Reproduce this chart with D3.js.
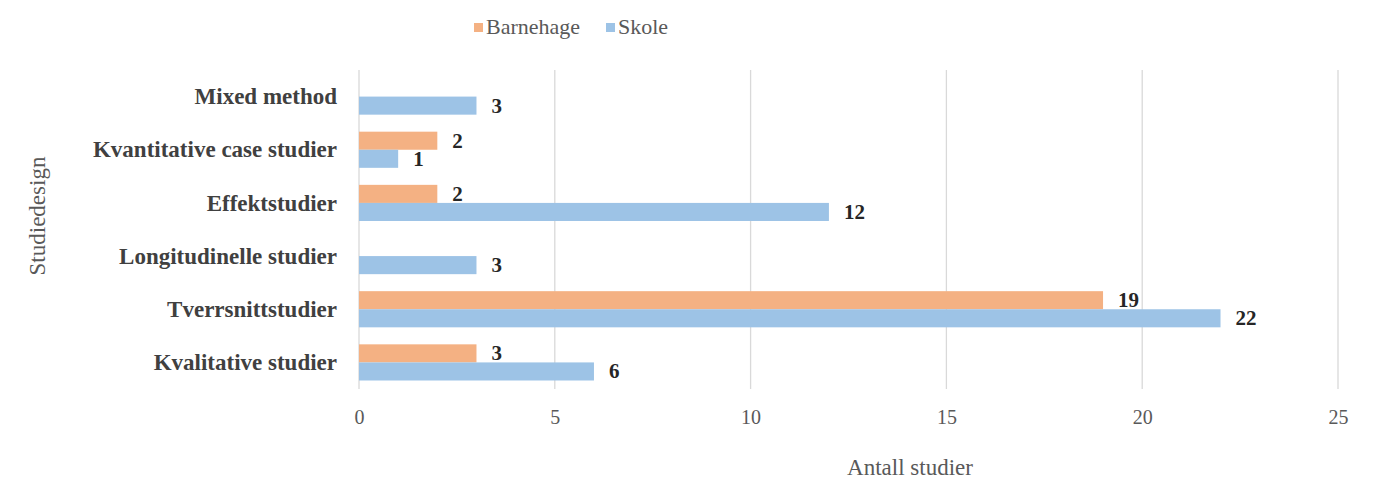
<!DOCTYPE html>
<html>
<head>
<meta charset="utf-8">
<script src="https://cdn.jsdelivr.net/npm/d3@7"></script>
<style>
	body { margin: 0; background: white; }
	text { font-family: 'Liberation Serif', 'Times New Roman', serif; }
</style>
</head>
<body>
<div id="chart"></div>
<script>
// data
var categories = ['Mixed method', 'Kvantitative case studier', 'Effektstudier',
	'Longitudinelle studier', 'Tverrsnittstudier', 'Kvalitative studier'];
var barnehage = [null, 2, 2, null, 19, 3];
var skole = [3, 1, 12, 3, 22, 6];
var series_names = ['Barnehage', 'Skole'];
var x_ticks = [0, 5, 10, 15, 20, 25];

var colors = ['#F4B183', '#9DC3E6'];

var margin = {top: 70, right: 47, bottom: 90, left: 359};
var width = 1385 - margin.left - margin.right;
var height = 479 - margin.top - margin.bottom;

var svg = d3.select('#chart')
	.append('svg')
		.attr('width', 1385)
		.attr('height', 479);

var g = svg.append('g')
	.attr('transform', 'translate(' + margin.left + ',' + margin.top + ')');

var x = d3.scaleLinear()
	.domain([0, 25])
	.range([0, width]);

var y = d3.scaleBand()
	.domain(categories)
	.range([0, height])
	.paddingInner(0.32)
	.paddingOuter(0.16);

var y_sub = d3.scaleBand()
	.domain(series_names)
	.range([0, y.bandwidth()]);

// grid
g.append('g')
	.selectAll('line')
	.data(x_ticks)
	.enter()
	.append('line')
		.attr('x1', function(d) { return x(d); })
		.attr('x2', function(d) { return x(d); })
		.attr('y1', 0)
		.attr('y2', height)
		.attr('stroke', '#d9d9d9')
		.attr('stroke-width', 1.3);

// x axis labels
var x_axis = g.append('g')
	.attr('transform', 'translate(0,' + height + ')')
	.call(d3.axisBottom(x).tickValues(x_ticks).tickSize(0).tickPadding(21));
x_axis.select('.domain').remove();
x_axis.selectAll('text')
	.style('font-family', 'Liberation Serif, serif')
	.style('font-size', '20px')
	.style('fill', '#595959');

// y axis labels
var y_axis = g.append('g')
	.call(d3.axisLeft(y).tickSize(0).tickPadding(22));
y_axis.select('.domain').remove();
y_axis.selectAll('text')
	.attr('dy', '0.33em')
	.style('font-family', 'Liberation Serif, serif')
	.style('font-size', '23px')
	.style('font-weight', 'bold')
	.style('fill', '#404040');

// bars
var all_series = [barnehage, skole];
all_series.forEach(function(values, s) {
	var rows = categories.map(function(c, i) { return {cat: c, v: values[i]}; })
		.filter(function(d) { return d.v !== null; });

	g.append('g')
		.selectAll('rect')
		.data(rows)
		.enter()
		.append('rect')
			.attr('x', x(0))
			.attr('y', function(d) { return y(d.cat) + y_sub(series_names[s]); })
			.attr('width', function(d) { return x(d.v) - x(0); })
			.attr('height', y_sub.bandwidth())
			.style('fill', colors[s]);

	g.append('g')
		.selectAll('text')
		.data(rows)
		.enter()
		.append('text')
			.attr('x', function(d) { return x(d.v) + 15; })
			.attr('y', function(d) { return y(d.cat) + y_sub(series_names[s]) + y_sub.bandwidth() / 2 + 7; })
			.text(function(d) { return d.v; })
			.style('font-size', '21px')
			.style('font-weight', 'bold')
			.style('fill', '#262626');
});

// axis titles
svg.append('text')
	.attr('text-anchor', 'middle')
	.attr('x', 910)
	.attr('y', 475)
	.text('Antall studier')
	.style('font-size', '23px')
	.style('fill', '#595959');

svg.append('text')
	.attr('text-anchor', 'middle')
	.attr('transform', 'translate(45,216) rotate(-90)')
	.text('Studiedesign')
	.style('font-size', '23px')
	.style('fill', '#595959');

// legend
var legend_x = [474, 606];
series_names.forEach(function(name, i) {
	svg.append('rect')
		.attr('x', legend_x[i])
		.attr('y', 23)
		.attr('width', 9)
		.attr('height', 9)
		.style('fill', colors[i]);
	svg.append('text')
		.attr('x', legend_x[i] + 12)
		.attr('y', 34)
		.text(name)
		.style('font-size', '22px')
		.style('fill', '#595959');
});
</script>
</body>
</html>
